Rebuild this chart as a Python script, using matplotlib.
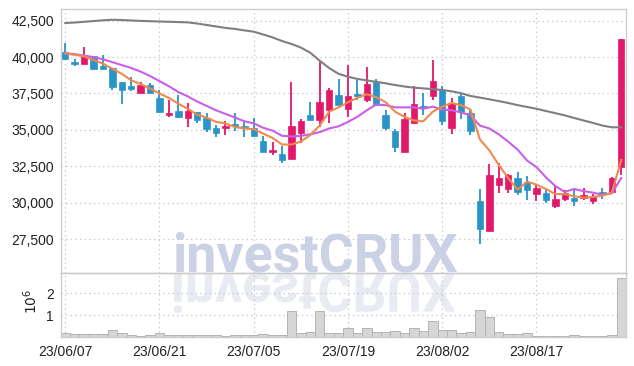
import matplotlib
matplotlib.use('Agg')
import matplotlib.pyplot as plt
import numpy as np
from matplotlib.textpath import TextPath
from matplotlib.patches import PathPatch
from matplotlib.font_manager import FontProperties
from matplotlib.transforms import Affine2D
from matplotlib.ticker import FuncFormatter, FixedLocator

# ---------------- data ----------------
dates = ['23/06/07', '23/06/08', '23/06/09', '23/06/12', '23/06/13', '23/06/14', '23/06/15', '23/06/16',
         '23/06/19', '23/06/20', '23/06/21', '23/06/22', '23/06/23', '23/06/26', '23/06/27', '23/06/28',
         '23/06/29', '23/06/30', '23/07/03', '23/07/04', '23/07/05', '23/07/06', '23/07/07', '23/07/10',
         '23/07/11', '23/07/12', '23/07/13', '23/07/14', '23/07/17', '23/07/18', '23/07/19', '23/07/20',
         '23/07/21', '23/07/24', '23/07/25', '23/07/26', '23/07/27', '23/07/28', '23/07/31', '23/08/01',
         '23/08/02', '23/08/03', '23/08/04', '23/08/07', '23/08/08', '23/08/09', '23/08/10', '23/08/11',
         '23/08/14', '23/08/16', '23/08/17', '23/08/18', '23/08/21', '23/08/22', '23/08/23', '23/08/24',
         '23/08/25', '23/08/28', '23/08/29', '23/08/30']

opens = [40350, 39650, 39550, 40050, 39400, 39250, 38300, 38000, 37550, 38100,
         37200, 36050, 36300, 35800, 36250, 35850, 35100, 35150, 35400, 35300,
         35100, 34250, 33500, 33350, 33000, 34800, 36050, 35650, 36350, 37400,
         36450, 37450, 37050, 38300, 36050, 34900, 33500, 35450, 36650, 37300,
         37750, 35100, 37300, 36150, 30150, 28100, 31250, 30950, 31700, 31450,
         30600, 30650, 29800, 30250, 30350, 30300, 30150, 30750, 30750, 32450]
highs = [40950, 39850, 40700, 40050, 40150, 39250, 38300, 38650, 38300, 38250,
         37750, 37050, 37400, 36850, 36250, 36150, 35350, 35600, 36150, 35600,
         35800, 34600, 34150, 33900, 38300, 35750, 36950, 39750, 37850, 38500,
         39450, 38450, 39300, 38500, 36400, 35050, 36150, 38000, 37550, 39800,
         38000, 37200, 37550, 36400, 30950, 32650, 32700, 31950, 32100, 31850,
         31250, 30900, 31250, 30900, 30950, 31000, 30600, 31000, 31800, 41250]
lows = [39850, 39400, 39550, 39200, 39200, 37750, 36750, 37650, 37550, 37550,
        36250, 35900, 35800, 35200, 35500, 34850, 34500, 34650, 34900, 34500,
        34600, 33500, 33300, 32750, 33000, 34100, 35650, 35200, 35500, 36700,
        35900, 37050, 36950, 36700, 35000, 33500, 33500, 35400, 36050, 37050,
        35350, 34750, 35750, 34650, 27200, 28100, 30650, 30700, 30550, 30200,
        30100, 30000, 29650, 30150, 29800, 30200, 29950, 30250, 30600, 31900]
closes = [39850, 39500, 40000, 39200, 39200, 37950, 37750, 37800, 38100, 37550,
          36250, 36150, 35900, 36300, 35700, 35050, 34800, 35300, 35250, 35200,
          34600, 33500, 33650, 32950, 35250, 35600, 35650, 36900, 37750, 36700,
          37350, 37300, 38150, 36700, 35100, 33850, 35750, 36800, 36550, 38350,
          35600, 36850, 36200, 34900, 28200, 31900, 31700, 31900, 30750, 30900,
          31000, 30200, 30250, 30650, 30100, 30550, 30500, 30600, 31700, 41250]
volumes = [0.16, 0.13, 0.13, 0.13, 0.13, 0.31, 0.18, 0.08, 0.03, 0.08,
           0.18, 0.07, 0.07, 0.07, 0.07, 0.07, 0.07, 0.03, 0.07, 0.07,
           0.07, 0.12, 0.07, 0.07, 1.18, 0.18, 0.22, 1.18, 0.16, 0.16,
           0.43, 0.16, 0.43, 0.22, 0.22, 0.29, 0.18, 0.43, 0.26, 0.75,
           0.34, 0.33, 0.18, 0.22, 1.22, 0.89, 0.22, 0.12, 0.12, 0.16,
           0.05, 0.03, 0.03, 0.03, 0.07, 0.03, 0.03, 0.03, 0.07, 2.69]  # x 10^6

ma5 = [40250, 40150, 40050, 39800, 39550, 39200, 38850, 38400, 38150, 37850,
       37500, 37200, 36800, 36450, 36050, 35850, 35550, 35450, 35200, 35100,
       35050, 34750, 34450, 34000, 34000, 34200, 34650, 35300, 36250, 36550,
       36900, 37200, 37450, 37250, 36900, 36250, 35900, 35650, 35600, 36250,
       36600, 36850, 36700, 36400, 34350, 33600, 32600, 31700, 30900, 31450,
       31250, 30950, 30600, 30600, 30450, 30350, 30400, 30500, 30700, 32950]
ma10 = [40250, 40200, 40100, 40000, 39850, 39650, 39450, 39250, 39000, 38700,
        38350, 38000, 37600, 37300, 36950, 36650, 36350, 36100, 35850, 35600,
        35450, 35150, 34950, 34600, 34550, 34600, 34700, 34850, 35100, 35250,
        35550, 35900, 36350, 36750, 36700, 36550, 36550, 36550, 36450, 36600,
        36400, 36350, 36200, 36000, 35300, 35100, 34700, 34200, 33650, 32900,
        32450, 31750, 31150, 30750, 30950, 30800, 30700, 30550, 30650, 31700]
ma60 = [42330, 42370, 42420, 42470, 42520, 42560, 42540, 42510, 42480, 42460,
        42440, 42420, 42400, 42380, 42300, 42200, 42100, 42000, 41930, 41830,
        41740, 41550, 41350, 41100, 40900, 40650, 40300, 39750, 39250, 38850,
        38650, 38500, 38400, 38300, 38200, 38080, 37980, 37900, 37850, 37800,
        37740, 37650, 37520, 37330, 37220, 37100, 36980, 36850, 36700, 36580,
        36450, 36300, 36150, 36000, 35820, 35650, 35480, 35300, 35180, 35180]

tick_dates = ['23/06/07', '23/06/21', '23/07/05', '23/07/19', '23/08/02', '23/08/17']
price_ticks = [27500, 30000, 32500, 35000, 37500, 40000, 42500]
vol_ticks = [1, 2]

# ---------------- style ----------------
UP = '#e2186b'
DOWN = '#2a93c8'
GRID = '#c9c9dc'
SPINE = '#cccccc'
LABEL = '#222222'
plt.rcParams['font.family'] = ['Liberation Sans Narrow', 'Liberation Sans', 'DejaVu Sans']

W, H, DPI = 634, 366, 100
fig = plt.figure(figsize=(W / DPI, H / DPI), dpi=DPI, facecolor='white')

left, right = 61, 626
main_top, main_bot = 9, 272.7
vol_top, vol_bot = 272.7, 337
ax = fig.add_axes([left / W, 1 - main_bot / H, (right - left) / W, (main_bot - main_top) / H])
axv = fig.add_axes([left / W, 1 - vol_bot / H, (right - left) / W, (vol_bot - vol_top) / H], sharex=ax)

x = np.arange(len(dates))
o = np.array(opens); c = np.array(closes); hi = np.array(highs); lo = np.array(lows)
up = c >= o
cols = np.where(up, UP, DOWN)

# wicks + bodies
ax.vlines(x, lo, hi, colors=cols, linewidth=1.3, zorder=2)
ax.bar(x, np.abs(c - o), bottom=np.minimum(o, c), width=0.68, color=cols,
       edgecolor=cols, linewidth=0.5, zorder=3)

# moving averages
ax.plot(x, ma60, color='#7f7f7f', linewidth=1.5, zorder=4)
ax.plot(x, ma10, color='#c95fe6', linewidth=1.5, zorder=4)
ax.plot(x, ma5, color='#ef8a4f', linewidth=1.5, zorder=5)

# volume
axv.bar(x, np.array(volumes), width=1.0, color='#d6d6d6', edgecolor='#b4b4b4', linewidth=0.7, zorder=2)

ax.set_xlim(-0.45, 59.5)
ax.set_ylim(25206, 43297)
axv.set_ylim(0, 2.93)

for a in (ax, axv):
    a.set_facecolor('none')
    a.set_axisbelow(True)
    for s in a.spines.values():
        s.set_color(SPINE)
        s.set_linewidth(1.0)
    a.grid(True, linestyle=(0, (1.2, 2.5)), color=GRID, linewidth=0.9)
    a.tick_params(length=0, colors=LABEL, labelsize=10, pad=5)

tick_pos = [dates.index(d) for d in tick_dates]
ax.xaxis.set_major_locator(FixedLocator(tick_pos))
ax.tick_params(axis='x', labelbottom=False)
axv.set_xticks(tick_pos)
axv.set_xticklabels(tick_dates)
axv.tick_params(axis='x', pad=6)

ax.set_yticks(price_ticks)
ax.yaxis.set_major_formatter(FuncFormatter(lambda v, p: f'{int(v):,}'))
axv.set_yticks(vol_ticks)
axv.set_yticklabels([str(v) for v in vol_ticks])

fig.text(31 / W, 1 - 301 / H, r'$10^{6}$', rotation=90, ha='center', va='center',
         fontsize=10, color=LABEL, family='DejaVu Sans')

# ---------------- watermark ----------------
wm = 'investCRUX'
wm_font = ['Roboto', 'DejaVu Sans']
target_w = 285.0
fs = 39
base_frac = 1 - 272.0 / H
t = fig.text(314.5 / W, base_frac, wm, ha='center', va='baseline', fontsize=fs,
             fontweight='bold', family=wm_font, color='#cbd2e5', zorder=-2)
fig.canvas.draw()
w_now = t.get_window_extent().width
fs = fs * target_w / w_now
t.set_fontsize(fs)

fp = FontProperties(family=wm_font, weight='bold')
tp = TextPath((0, 0), wm, size=fs * DPI / 72.0, prop=fp)
ext = tp.get_extents()
tr = Affine2D().translate(-(ext.x0 + ext.x1) / 2.0, 0).scale(1, -1).translate(314.5, H - 273.5)
refl = PathPatch(tp, transform=tr, facecolor='#e9ebf3', edgecolor='none', zorder=-3)
fig.add_artist(refl)

fig.savefig('out.png', dpi=DPI, facecolor='white')
